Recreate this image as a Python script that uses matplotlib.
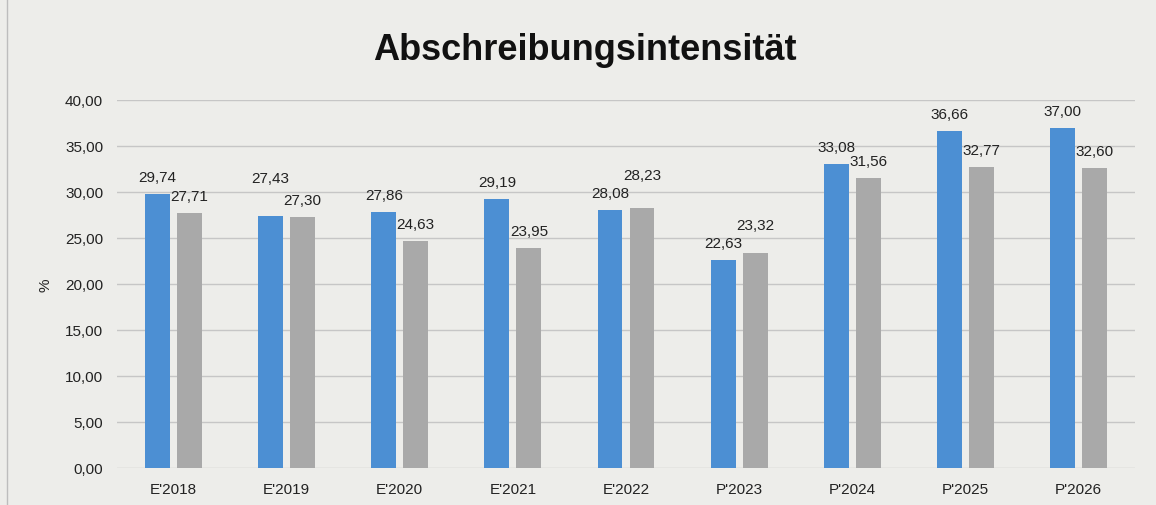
import matplotlib.pyplot as plt
import numpy as np

# Daten
kategorien = ["E'2018", "E'2019", "E'2020", "E'2021", "E'2022",
              "P'2023", "P'2024", "P'2025", "P'2026"]
werte_blau = [29.74, 27.43, 27.86, 29.19, 28.08, 22.63, 33.08, 36.66, 37.00]
werte_grau = [27.71, 27.30, 24.63, 23.95, 28.23, 23.32, 31.56, 32.77, 32.60]
titel = 'Abschreibungsintensität'

plt.rcParams['font.family'] = ['Liberation Sans', 'DejaVu Sans']

bg = '#ededea'
blau = '#4c8fd3'
grau = '#a9a9a9'
text_farbe = '#222222'

fig = plt.figure(figsize=(11.56, 5.06), dpi=100, facecolor=bg)
ax = fig.add_axes([117 / 1156, 1 - 469 / 506, (1135 - 117) / 1156, (469 - 101) / 506])
ax.set_facecolor(bg)

x = np.arange(len(kategorien))
breite = 0.22
abstand = 0.062
versatz = (breite + abstand) / 2
ax.bar(x - versatz, werte_blau, width=breite, color=blau, zorder=3)
ax.bar(x + versatz, werte_grau, width=breite, color=grau, zorder=3)

# Beschriftungen (Excel verschiebt einige Labels nach oben)
extra_blau = {1: 21}
extra_grau = {4: 16, 5: 11}
for i in range(len(kategorien)):
    for werte, dx, extra in ((werte_blau, -versatz, extra_blau), (werte_grau, versatz, extra_grau)):
        v = werte[i]
        ax.annotate(f'{v:.2f}'.replace('.', ','), (x[i] + dx, v),
                    xytext=(0, (17 + extra.get(i, 0)) * 0.72), textcoords='offset points',
                    ha='center', va='center', fontsize=11, color=text_farbe, zorder=4)

ax.set_xlim(-0.5, len(kategorien) - 0.5)
ax.set_ylim(0, 40)
ax.set_yticks(np.arange(0, 41, 5))
ax.set_yticklabels([f'{t:.2f}'.replace('.', ',') for t in np.arange(0, 41, 5)])
ax.set_xticks(x)
ax.set_xticklabels(kategorien)
ax.tick_params(axis='both', length=0, labelsize=11, colors=text_farbe)
ax.tick_params(axis='y', pad=10)
ax.tick_params(axis='x', pad=10)
ax.grid(axis='y', color='#c6c6c6', linewidth=1.0, zorder=0)
for s in ax.spines.values():
    s.set_visible(False)

fig.text(46 / 1156, 1 - 285 / 506, '%', rotation=90, ha='center', va='center',
         fontsize=11, color=text_farbe)
fig.text(585 / 1156, 1 - 51 / 506, titel, ha='center', va='center',
         fontsize=26, fontweight='bold', color='#111111')

# Rahmen links
fig.add_artist(plt.Line2D([7 / 1156, 7 / 1156], [0, 1], color='#bdbdbd', linewidth=1))

fig.savefig('out.png', dpi=100, facecolor=bg)
